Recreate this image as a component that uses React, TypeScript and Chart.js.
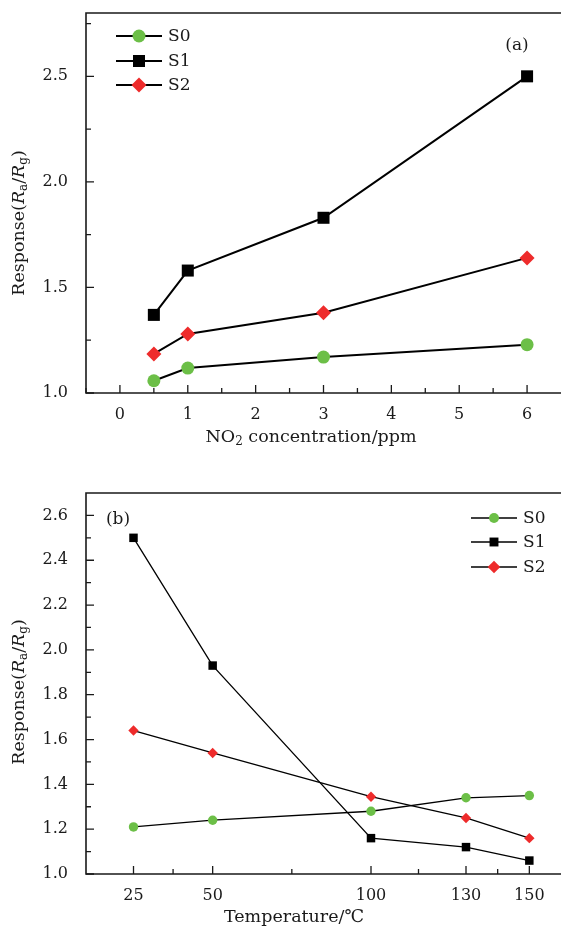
import React, { useEffect, useRef } from 'react';
import { Chart, registerables } from 'chart.js';

Chart.register(...registerables);

// ---------- data ----------
const seriesNames = ['S0', 'S1', 'S2'];
const seriesColors = ['#6cbf47', '#000000', '#ee2b2b'];
const seriesShapes = ['circle', 'rect', 'rectRot'];

const concentration = [0.5, 1, 3, 6];
const s0Conc = [1.058, 1.118, 1.17, 1.229];
const s1Conc = [1.37, 1.58, 1.83, 2.5];
const s2Conc = [1.185, 1.28, 1.38, 1.64];
const concTicks = [0, 1, 2, 3, 4, 5, 6];
const concMinorTicks = [-0.5, 0.5, 1.5, 2.5, 3.5, 4.5, 5.5];
const concYTicks = [1.0, 1.5, 2.0, 2.5];
const concYMinorTicks = [1.25, 1.75, 2.25, 2.75];

const temperature = [25, 50, 100, 130, 150];
const s0Temp = [1.21, 1.24, 1.28, 1.34, 1.35];
const s1Temp = [2.5, 1.93, 1.16, 1.12, 1.06];
const s2Temp = [1.64, 1.54, 1.345, 1.25, 1.16];
const tempTicks = [25, 50, 100, 130, 150];
const tempMinorTicks = [37.5, 75, 115, 140];
const tempYTicks = [1.0, 1.2, 1.4, 1.6, 1.8, 2.0, 2.2, 2.4, 2.6];
const tempYMinorTicks = [1.1, 1.3, 1.5, 1.7, 1.9, 2.1, 2.3, 2.5];

const FONT = 'DejaVu Serif';
const TEXT = '#1a1a1a';

type Part = { t: string; it?: boolean; sub?: boolean };

function drawRich(ctx: CanvasRenderingContext2D, parts: Part[], cx: number, cy: number, size: number, rotate: boolean) {
  ctx.save();
  ctx.translate(cx, cy);
  if (rotate) ctx.rotate(-Math.PI / 2);
  ctx.fillStyle = TEXT;
  ctx.textBaseline = 'middle';
  ctx.textAlign = 'left';
  const fontOf = (p: Part) => `${p.it ? 'italic ' : ''}${p.sub ? Math.round(size * 0.68) : size}px "${FONT}"`;
  let total = 0;
  for (const p of parts) {
    ctx.font = fontOf(p);
    total += ctx.measureText(p.t).width;
  }
  let x = -total / 2;
  for (const p of parts) {
    ctx.font = fontOf(p);
    ctx.fillText(p.t, x, p.sub ? size * 0.3 : 0);
    x += ctx.measureText(p.t).width;
  }
  ctx.restore();
}

function drawMarker(ctx: CanvasRenderingContext2D, shape: string, x: number, y: number, r: number, color: string) {
  ctx.save();
  ctx.fillStyle = color;
  ctx.beginPath();
  if (shape === 'circle') {
    ctx.arc(x, y, r, 0, Math.PI * 2);
  } else if (shape === 'rect') {
    const s = r * Math.SQRT1_2;
    ctx.rect(x - s, y - s, 2 * s, 2 * s);
  } else {
    ctx.moveTo(x, y - r);
    ctx.lineTo(x + r, y);
    ctx.lineTo(x, y + r);
    ctx.lineTo(x - r, y);
    ctx.closePath();
  }
  ctx.fill();
  ctx.restore();
}

type PanelCfg = {
  xTicks: number[];
  xMinor: number[];
  yTicks: number[];
  yMinor: number[];
  legendX: number;
  legendY: number[];
  legendRadii: number[];
  legendLineW: number;
  label: string;
  labelX: number;
  labelY: number;
  xTitle: Part[];
  xTitleX: number;
  xTitleY: number;
  yTitleX: number;
  yTitleY: number;
};

function framePlugin(cfg: PanelCfg) {
  return {
    id: 'frame',
    afterDraw(chart: any) {
      const ctx: CanvasRenderingContext2D = chart.ctx;
      const a = chart.chartArea;
      const xs = chart.scales.x;
      const ys = chart.scales.y;
      ctx.save();
      ctx.strokeStyle = TEXT;
      ctx.lineWidth = 1.6;
      ctx.beginPath();
      ctx.moveTo(a.right + 2, a.top);
      ctx.lineTo(a.left, a.top);
      ctx.lineTo(a.left, a.bottom);
      ctx.lineTo(a.right + 2, a.bottom);
      ctx.stroke();
      ctx.lineWidth = 1.3;
      ctx.beginPath();
      for (const v of cfg.xTicks) {
        const px = xs.getPixelForValue(v);
        ctx.moveTo(px, a.bottom);
        ctx.lineTo(px, a.bottom - 8);
      }
      for (const v of cfg.xMinor) {
        const px = xs.getPixelForValue(v);
        ctx.moveTo(px, a.bottom);
        ctx.lineTo(px, a.bottom - 5);
      }
      for (const v of cfg.yTicks) {
        const py = ys.getPixelForValue(v);
        ctx.moveTo(a.left, py);
        ctx.lineTo(a.left + 8, py);
      }
      for (const v of cfg.yMinor) {
        const py = ys.getPixelForValue(v);
        ctx.moveTo(a.left, py);
        ctx.lineTo(a.left + 5, py);
      }
      ctx.stroke();

      // legend
      chart.data.datasets.forEach((ds: any, i: number) => {
        const y = cfg.legendY[i];
        ctx.strokeStyle = '#000';
        ctx.lineWidth = cfg.legendLineW;
        ctx.beginPath();
        ctx.moveTo(cfg.legendX, y);
        ctx.lineTo(cfg.legendX + 46, y);
        ctx.stroke();
        drawMarker(ctx, seriesShapes[i], cfg.legendX + 23, y, cfg.legendRadii[i], seriesColors[i]);
        ctx.fillStyle = TEXT;
        ctx.font = `17px "${FONT}"`;
        ctx.textBaseline = 'middle';
        ctx.textAlign = 'left';
        ctx.fillText(ds.label, cfg.legendX + 52, y + 1);
      });

      // panel label
      ctx.fillStyle = TEXT;
      ctx.font = `17px "${FONT}"`;
      ctx.textAlign = 'center';
      ctx.textBaseline = 'middle';
      ctx.fillText(cfg.label, cfg.labelX, cfg.labelY);
      ctx.restore();

      drawRich(ctx, cfg.xTitle, cfg.xTitleX, cfg.xTitleY, 17.5, false);
      drawRich(
        ctx,
        [
          { t: 'Response(' },
          { t: 'R', it: true },
          { t: 'a', sub: true },
          { t: '/' },
          { t: 'R', it: true },
          { t: 'g', sub: true },
          { t: ')' },
        ],
        cfg.yTitleX,
        cfg.yTitleY,
        17.5,
        true
      );
    },
  };
}

function makeConfig(
  xs: number[],
  series: number[][],
  xMin: number,
  xMax: number,
  yMin: number,
  yMax: number,
  xTicks: number[],
  yTicks: number[],
  radii: number[],
  lineW: number,
  padTop: number,
  xHeight: number,
  yDecimals: number,
  cfg: PanelCfg
): any {
  return {
    type: 'line',
    data: {
      datasets: series.map((vals, i) => ({
        label: seriesNames[i],
        data: xs.map((x, j) => ({ x, y: vals[j] })),
        borderColor: '#000',
        borderWidth: lineW,
        pointStyle: seriesShapes[i],
        pointRadius: radii[i],
        pointBackgroundColor: seriesColors[i],
        pointBorderColor: seriesColors[i],
        pointBorderWidth: 0,
        fill: false,
        tension: 0,
      })),
    },
    options: {
      animation: false,
      responsive: false,
      maintainAspectRatio: false,
      events: [],
      layout: { autoPadding: false, padding: { top: padTop, left: 0, right: 0, bottom: 0 } },
      plugins: { legend: { display: false }, tooltip: { enabled: false } },
      scales: {
        x: {
          type: 'linear',
          min: xMin,
          max: xMax,
          grid: { display: false },
          border: { display: false },
          afterBuildTicks: (s: any) => {
            s.ticks = xTicks.map((v) => ({ value: v }));
          },
          afterFit: (s: any) => {
            s.height = xHeight;
            s.paddingLeft = 0;
            s.paddingRight = 0;
          },
          ticks: {
            autoSkip: false,
            maxRotation: 0,
            padding: 4,
            color: TEXT,
            font: { family: FONT, size: 16 },
            callback: (v: any) => String(v),
          },
        },
        y: {
          type: 'linear',
          min: yMin,
          max: yMax,
          grid: { display: false },
          border: { display: false },
          afterBuildTicks: (s: any) => {
            s.ticks = yTicks.map((v) => ({ value: v }));
          },
          afterFit: (s: any) => {
            s.width = 86;
            s.paddingTop = 0;
            s.paddingBottom = 0;
          },
          ticks: {
            autoSkip: false,
            padding: 10,
            color: TEXT,
            font: { family: FONT, size: 16 },
            callback: (v: any) => Number(v).toFixed(yDecimals),
          },
        },
      },
    },
    plugins: [framePlugin(cfg)],
  };
}

export default function App() {
  const topRef = useRef<HTMLCanvasElement>(null);
  const botRef = useRef<HTMLCanvasElement>(null);

  useEffect(() => {
    const top = new Chart(
      topRef.current!,
      makeConfig(
        concentration,
        [s0Conc, s1Conc, s2Conc],
        -0.5,
        6.5,
        1.0,
        2.8,
        concTicks,
        concYTicks,
        [6.5, 8.5, 7.5],
        2,
        13,
        72,
        1,
        {
          xTicks: concTicks,
          xMinor: concMinorTicks,
          yTicks: concYTicks,
          yMinor: concYMinorTicks,
          legendX: 116,
          legendY: [36, 61, 85],
          legendRadii: [6.5, 8.5, 7.5],
          legendLineW: 2,
          label: '(a)',
          labelX: 517,
          labelY: 46,
          xTitle: [{ t: 'NO' }, { t: '2', sub: true }, { t: ' concentration/ppm' }],
          xTitleX: 311,
          xTitleY: 437,
          yTitleX: 19,
          yTitleY: 223,
        }
      )
    );
    const bot = new Chart(
      botRef.current!,
      makeConfig(
        temperature,
        [s0Temp, s1Temp, s2Temp],
        10,
        160,
        1.0,
        2.7,
        tempTicks,
        tempYTicks,
        [4.7, 6, 5.2],
        1.3,
        28,
        52,
        1,
        {
          xTicks: tempTicks,
          xMinor: tempMinorTicks,
          yTicks: tempYTicks,
          yMinor: tempYMinorTicks,
          legendX: 471,
          legendY: [53, 77, 102],
          legendRadii: [5, 6.3, 6.3],
          legendLineW: 1.3,
          label: '(b)',
          labelX: 118,
          labelY: 55,
          xTitle: [{ t: 'Temperature/℃' }],
          xTitleX: 294,
          xTitleY: 452,
          yTitleX: 19,
          yTitleY: 227,
        }
      )
    );
    return () => {
      top.destroy();
      bot.destroy();
    };
  }, []);

  return (
    <div style={{ position: 'absolute', left: 0, top: 0, width: 561, height: 926, background: '#fff' }}>
      <canvas ref={topRef} width={561} height={465} style={{ position: 'absolute', left: 0, top: 0, width: 561, height: 465 }} />
      <canvas ref={botRef} width={561} height={461} style={{ position: 'absolute', left: 0, top: 465, width: 561, height: 461 }} />
    </div>
  );
}
